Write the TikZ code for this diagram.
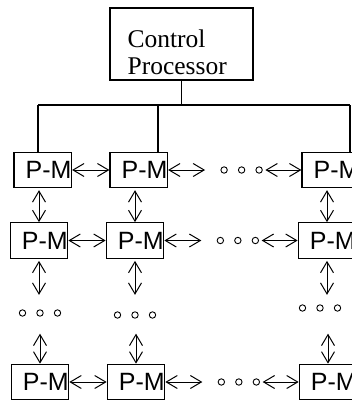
\documentclass[tikz,border=0pt]{standalone}
\usepackage{fontspec}
\usetikzlibrary{arrows.meta}
\newfontfamily\pmfont{Liberation Sans}
\newfontfamily\cpfont{Liberation Serif}
\tikzset{
  pm/.style = {draw = black, line width = 1.2pt, minimum width = 57.5pt, minimum height = 35.5pt, inner sep = 0pt, text width = 57.5pt, align = right, font = \pmfont\fontsize{25}{25}\selectfont},
  link/.style = {line width = 1pt, {Straight Barb[length = 11pt, width = 13pt]}-{Straight Barb[length = 11pt, width = 13pt]}},
  dot/.style = {line width = 0.9pt}
}
\begin{document}
\begin{tikzpicture}[x = 1pt, y = -1pt]
\useasboundingbox (0,0) rectangle (352,402);
\pgfmathsetmacro\dx{96};
\pgfmathsetmacro\bus{105};
\node[draw = black, line width = 1.2pt, minimum width = 143pt, minimum height = 72pt] (cp) at (181.5,44) {};
\node[anchor = north west, align = left, inner sep = 0pt, font = \cpfont\fontsize{25.5}{27}\selectfont] (cptext) at ([xshift = 18pt, yshift = -22.6pt]cp.north west) {Control\\Processor};
\foreach \r/\x/\y in {1/42.75/170, 2/39/240.5, 3/40/382} {
  \node[pm] (r\r c1) at (\x,\y) {P-M};
  \node[pm] (r\r c2) at (\x+\dx,\y) {P-M};
  \node[pm] (r\r c3) at (\x+3*\dx,\y) {P-M};
  \draw[link] (r\r c1) -- (r\r c2);
  \draw[link] (r\r c2.east) -- ++(37,0);
  \draw[link] (r\r c3.west) -- ++(-36,0);
  \foreach \d in {56,73.5,91} \draw[dot] ([xshift = \d pt]r\r c2.east) circle (3.2);
}
\draw[line width = 1.2pt] (cp.south) -- (cp.south |- 0,\bus);
\draw[line width = 1.2pt] (38,\bus) -- (350,\bus);
\foreach \x/\n in {38/1, 158/2, 350/3} \draw[line width = 1.2pt] (\x,\bus) -- (\x,0 |- r1c\n.north);
\foreach \c in {1,2,3} {
  \draw[link] (r2c\c.north) -- ++(0,-32);
  \draw[link] ([yshift = -2pt]r2c\c.south) -- ++(0,34);
  \draw[link] (r3c\c.north) -- ++(0,-30);
}
\foreach \x/\y in {40/313, 135/315, 320/308} \foreach \d in {-17.5,0,17.5} \draw[dot] (\x+\d,\y) circle (3.2);
\end{tikzpicture}
\end{document}
